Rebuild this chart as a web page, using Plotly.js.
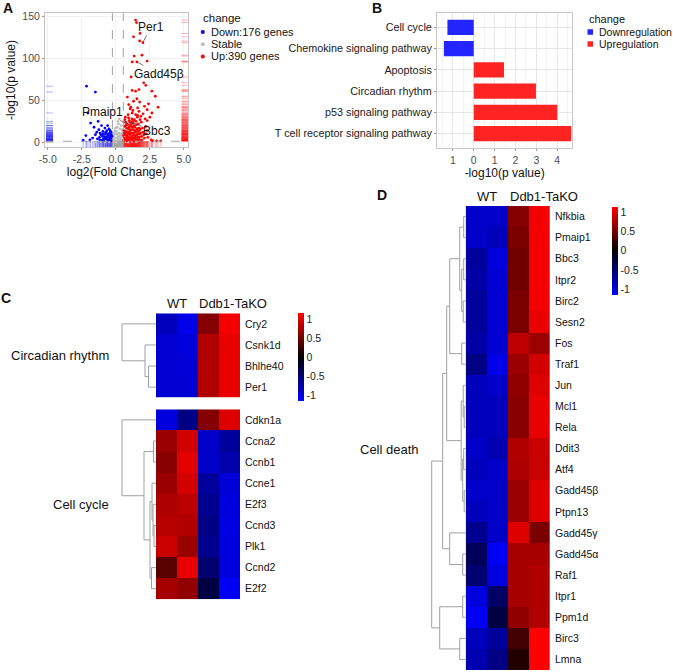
<!DOCTYPE html>
<html>
<head>
<meta charset="utf-8">
<script src="https://cdn.plot.ly/plotly-3.0.1.min.js"></script>
<style>
  html, body { margin: 0; padding: 0; background: #fff; }
  #fig { width: 673px; height: 672px; }
</style>
</head>
<body>
<div id="fig"></div>
<script>
// ---------- A: volcano ----------
const upX = [1.45, 1.52, 1.78, 1.30, 1.75, 1.99, 1.35, 1.92, 1.20, 1.55, 2.30, 1.12, 2.05, 2.20, 1.20, 1.45, 1.70, 2.65, 0.85, 1.55, 2.90, 1.30, 1.75, 0.95, 2.40, 1.10, 1.60, 2.10, 3.10,
  0.58, 0.62, 0.70, 0.75, 0.80, 0.85, 0.90, 0.95, 1.00, 1.05, 1.10, 1.15, 1.20, 1.25, 1.30, 1.35, 1.40, 1.45, 1.50, 1.55, 1.60, 1.65, 1.70, 1.75, 1.80, 1.85, 1.90, 2.00, 2.10, 2.20,
  0.60, 0.65, 0.72, 0.78, 0.82, 0.88, 0.98, 1.04, 1.08, 1.18, 1.28, 1.38, 1.48, 1.58, 1.68, 1.78, 1.88, 0.68, 0.82, 0.92, 1.02, 1.12, 1.22, 1.32, 1.42, 1.52, 1.62, 1.72,
  1.92, 2.05, 2.35, 2.30, 2.30, 0.70, 0.90, 1.20, 1.60, 2.00, 2.65, 2.30, 1.25, 2.70, 3.00, 3.30, 2.50, 0.57, 0.63, 0.74, 0.96, 1.14, 1.36, 1.66, 1.44, 1.26, 0.88, 1.08,
  1.56, 1.74, 0.66, 0.94, 1.46, 1.84, 2.15, 2.25, 2.60, 1.05, 1.70, 0.62, 0.76, 0.86, 1.16, 1.34, 1.54, 1.64, 1.82, 0.72, 0.98, 1.22, 1.40, 1.96];
const upY = [146, 143, 130, 126, 121, 119, 103, 104, 96, 96, 97, 78, 71, 68, 62, 61, 63, 61, 54, 52, 55, 49, 48, 45, 46, 42, 41, 43, 42,
  2, 5, 3, 8, 1.8, 12, 4, 6, 2.5, 9, 15, 3.5, 7, 11, 2, 5, 18, 8, 3, 13, 6, 22, 4, 10, 16, 2.2, 7, 12, 5, 19,
  14, 19, 24, 17, 22, 21, 26, 24, 20, 28, 23, 14, 25, 30, 17, 27, 24, 10, 6, 16, 13, 11, 18, 9, 12, 21, 10, 14,
  3, 9, 6, 14, 26, 30, 33, 35, 32, 34, 35, 39, 38, 2, 1.8, 1.6, 30, 8, 1.5, 13, 10, 22, 27, 2.8, 4.5, 15, 3, 5.5,
  9, 6.5, 27, 29, 33, 31, 28, 10, 3, 40, 37, 11, 4, 9, 5, 20, 16, 13, 11, 20, 18, 25, 7, 17];

const downX = [-2.15, -1.50, -2.05, -1.85, -1.60, -1.40, -1.25, -1.10, -0.95, -0.85, -0.75, -0.70, -0.60, -0.55, -0.50, -0.45, -0.40, -0.35, -0.30,
  -0.90, -1.00, -1.20, -1.35, -1.50, -1.70, -1.90, -2.20, -2.40, -0.65, -0.80, -1.05, -0.50, -0.40, -1.30, -0.60, -0.35, -0.55, -0.70, -1.15, -0.88,
  -0.32, -0.42, -0.62, -0.78, -0.98, -1.18, -0.48, -0.28, -0.74, -0.92];
const downY = [67, 60, 35, 23, 18, 12, 15, 9, 13, 7, 10, 4, 8, 2.5, 6, 11, 3, 5, 2,
  4, 2.5, 6, 4, 9, 5, 3, 8, 2.5, 14, 17, 20, 16, 8, 25, 20, 12, 10, 6, 11, 2,
  9, 14, 3, 5, 7, 3, 4, 7, 12, 10];

const stableX = [-0.20, -0.10, 0.00, 0.10, 0.20, 0.30, 0.40, 0.50, -0.15, -0.05, 0.05, 0.15, 0.25, 0.35, 0.45, 0.10, 0.20, 0.00, 0.30, -0.10,
  0.40, 0.15, 0.25, 0.05, -0.50, -0.80, -1.10, -1.50, 0.70, 0.90, 1.20, 1.50, -0.20, 0.35, 0.45, 0.50, -0.22, 0.52, 0.12, -0.08,
  0.22, -0.02, 0.32, 0.08, -0.14, 0.42];
const stableY = [1, 3, 0.5, 2, 4, 1.5, 6, 3, 7, 10, 13, 8, 11, 9, 15, 18, 22, 5, 16, 14,
  20, 25, 28, 0.3, 0.6, 0.4, 0.9, 0.5, 0.8, 0.3, 1.0, 0.6, 4, 3, 10, 12, 2, 8, 6, 1.2,
  7, 17, 5, 10, 11, 2];

const changeLabels = ['Down:176 genes', 'Stable', 'Up:390 genes'];
const calloutGenes = ['Per1', 'Gadd45β', 'Pmaip1', 'Bbc3'];
const calloutX = [1.99, 1.55, 0.82, 1.04];
const calloutY = [119, 96, 22, 24];
const fcCut = [-0.25, 0.55];
const pCut = 1.3;
const volcanoXTicks = [-5, -2.5, 0, 2.5, 5];
const volcanoXText = ['-5.0', '-2.5', '0.0', '2.5', '5.0'];
const volcanoYTicks = [0, 50, 100, 150];

// ---------- B: pathways ----------
const pathways = ['Cell cycle', 'Chemokine signaling pathway', 'Apoptosis', 'Circadian rhythm', 'p53 signaling pathway', 'T cell receptor signaling pathway'];
const pathwayLogP = [1.26, 1.43, 1.45, 2.98, 4.0, 4.67];
const pathwayChange = ['Downregulation', 'Downregulation', 'Upregulation', 'Upregulation', 'Upregulation', 'Upregulation'];
const pathwayTicks = [-1, 0, 1, 2, 3, 4];
const pathwayTickText = ['1', '0', '1', '2', '3', '4'];

// ---------- C / D: heatmaps ----------
const sampleGroups = ['WT', 'Ddb1-TaKO'];
const circRows = ['Cry2', 'Csnk1d', 'Bhlhe40', 'Per1'];
const circZ = [
  [-0.85, -1.05, 0.60, 1.10],
  [-0.95, -1.00, 0.80, 1.05],
  [-0.95, -0.97, 0.80, 1.05],
  [-0.95, -0.95, 0.80, 1.05]
];
const cycleRows = ['Cdkn1a', 'Ccna2', 'Ccnb1', 'Ccne1', 'E2f3', 'Ccnd3', 'Plk1', 'Ccnd2', 'E2f2'];
const cycleZ = [
  [-1.00, -0.60, 0.60, 1.00],
  [0.70, 0.95, -0.90, -0.70],
  [0.62, 1.02, -0.90, -0.78],
  [0.70, 0.95, -0.70, -0.98],
  [0.78, 0.85, -0.65, -1.00],
  [0.82, 0.80, -0.60, -1.02],
  [0.90, 0.70, -0.65, -1.00],
  [0.40, 1.05, -0.50, -1.00],
  [0.75, 0.65, -0.30, -1.10]
];
const deathRows = ['Nfkbia', 'Pmaip1', 'Bbc3', 'Itpr2', 'Birc2', 'Sesn2', 'Fos', 'Traf1', 'Jun', 'Mcl1', 'Rela', 'Ddit3', 'Atf4',
  'Gadd45β', 'Ptpn13', 'Gadd45γ', 'Gadd45α', 'Raf1', 'Itpr1', 'Ppm1d', 'Birc3', 'Lmna'];
const deathZ = [
  [-0.90, -0.90, 0.60, 1.10],
  [-0.90, -0.85, 0.55, 1.10],
  [-0.70, -1.00, 0.50, 1.10],
  [-0.75, -0.95, 0.50, 1.10],
  [-0.70, -0.95, 0.55, 1.10],
  [-0.70, -0.95, 0.55, 1.05],
  [-0.75, -0.95, 0.85, 0.70],
  [-0.60, -1.05, 0.70, 0.95],
  [-0.85, -0.90, 0.65, 1.00],
  [-0.85, -0.85, 0.62, 1.05],
  [-0.85, -0.85, 0.62, 1.05],
  [-0.90, -0.80, 0.80, 0.90],
  [-0.85, -0.90, 0.78, 0.90],
  [-0.90, -0.90, 0.70, 1.00],
  [-0.85, -0.90, 0.70, 1.00],
  [-0.65, -0.90, 1.00, 0.55],
  [-0.40, -1.10, 0.75, 0.75],
  [-0.50, -1.00, 0.75, 0.80],
  [-1.00, -0.45, 0.75, 0.80],
  [-1.10, -0.30, 0.65, 0.80],
  [-0.85, -0.70, 0.30, 1.15],
  [-0.80, -0.60, 0.15, 1.15]
];

// dendrogram merges: [left, right, height]; ids >= leaf count refer to earlier merges
const circMerges = [[2, 3, 7.5], [1, 4, 11], [0, 5, 34]];
const cycleMerges = [[1, 2, 2.5], [5, 6, 2], [4, 10, 3], [3, 11, 4], [7, 8, 4.5], [12, 13, 6], [9, 14, 12], [0, 15, 34]];
const deathMerges = [[0, 1, 2], [2, 3, 2], [4, 5, 2.5], [23, 24, 4], [22, 25, 6], [6, 7, 4], [26, 27, 16],
  [9, 10, 1.5], [8, 29, 2.5], [11, 12, 2], [13, 14, 1.5], [31, 32, 3], [30, 33, 4.5], [28, 34, 19],
  [16, 17, 3], [15, 36, 16], [35, 37, 23], [18, 19, 3], [20, 21, 6], [39, 40, 26], [38, 41, 34]];

// ---------- helpers ----------
const W = 673, H = 672;
const FONT = 'Liberation Sans, Arial, sans-serif';
const dx = (a, b) => [a / W, b / W];
const dy = (a, b) => [1 - b / H, 1 - a / H];

function label(text, x, y, size, anchor, extra) {
  return Object.assign({
    text, xref: 'paper', yref: 'paper', x: x / W, y: 1 - y / H,
    xanchor: anchor || 'center', yanchor: 'middle', showarrow: false,
    font: { size, color: '#111', family: FONT }
  }, extra || {});
}

function dendroLines(nLeaves, merges) {
  const pos = [], ht = [], xs = [], ys = [];
  for (let i = 0; i < nLeaves; i++) { pos.push(i); ht.push(0); }
  merges.forEach(([a, b, h]) => {
    xs.push(ht[a], h, h, ht[b], null);
    ys.push(pos[a], pos[a], pos[b], pos[b], null);
    pos.push((pos[a] + pos[b]) / 2);
    ht.push(h);
  });
  return { x: xs, y: ys };
}

// volcano axis ranges and rug positions (rugs hug the frame)
const vxr = [-5.2, 5.3], vyr = [-5.6, 154.4];
const leftRugX = vxr[0] + (4.5 / 143) * (vxr[1] - vxr[0]);
const rightRugX = vxr[1] - (3 / 143) * (vxr[1] - vxr[0]);
const bottomRugY = vyr[0] + (2.5 / 134) * (vyr[1] - vyr[0]);

const BLUE = 'rgb(0,0,255)', RED = 'rgb(255,0,0)', GREY = 'rgb(190,190,190)';

function rug(x, y, symbol, color) {
  return { x, y, type: 'scatter', mode: 'markers', hoverinfo: 'skip', showlegend: false,
    marker: { symbol, size: 5, line: { width: 1, color } } };
}

const traces = [];

// rugs first so points sit on top
traces.push(rug(stableX.map(() => leftRugX), stableY, 'line-ew', 'rgba(170,170,170,0.2)'));
traces.push(rug(downX.map(() => leftRugX), downY, 'line-ew', 'rgba(0,0,255,0.3)'));
traces.push(rug(upX.map(() => rightRugX), upY, 'line-ew', 'rgba(255,0,0,0.3)'));
traces.push(rug(downX, downX.map(() => bottomRugY), 'line-ns', 'rgba(0,0,255,0.3)'));
traces.push(rug(stableX, stableX.map(() => bottomRugY), 'line-ns', 'rgba(150,150,150,0.4)'));
traces.push(rug(upX, upX.map(() => bottomRugY), 'line-ns', 'rgba(255,0,0,0.3)'));

[[stableX, stableY, GREY], [downX, downY, BLUE], [upX, upY, RED]].forEach(([x, y, c]) => {
  traces.push({ x, y, type: 'scatter', mode: 'markers', showlegend: false, hoverinfo: 'skip',
    marker: { size: 2.8, color: c, line: { width: 0 } } });
});

// B: bars
['Downregulation', 'Upregulation'].forEach(ch => {
  const idx = pathways.map((p, i) => i).filter(i => pathwayChange[i] === ch);
  traces.push({
    type: 'bar', orientation: 'h', xaxis: 'x2', yaxis: 'y2', showlegend: false, hoverinfo: 'skip',
    y: idx.map(i => pathways[i]),
    x: idx.map(i => ch === 'Downregulation' ? -pathwayLogP[i] : pathwayLogP[i]),
    width: 0.72,
    marker: { color: ch === 'Downregulation' ? '#2424ff' : '#ff2424', line: { width: 0 } }
  });
});

// C / D heatmaps
const scale = [[0, 'rgb(0,0,255)'], [0.5, 'rgb(0,0,0)'], [1, 'rgb(255,0,0)']];
const cbTicks = { tickvals: [1, 0.5, 0, -0.5, -1], ticktext: ['1', '0.5', '0', '-0.5', '-1'] };
function heat(z, xa, ya, cbar) {
  const t = { type: 'heatmap', z, x: [0, 1, 2, 3], y: z.map((r, i) => i), xaxis: xa, yaxis: ya,
    colorscale: scale, zmin: -1.15, zmax: 1.15, hoverinfo: 'skip', showscale: !!cbar };
  if (cbar) {
    t.colorbar = Object.assign({
      xanchor: 'left', yanchor: 'top', lenmode: 'pixels', thicknessmode: 'pixels', thickness: 6,
      outlinewidth: 0, xpad: 0, ypad: 0, ticks: '', tickfont: { size: 10.5, color: '#222', family: FONT }
    }, cbTicks, cbar);
  }
  return t;
}
traces.push(heat(circZ, 'x3', 'y3', { x: 297.7 / W, y: 1 - 313.3 / H, len: 87.7 }));
traces.push(heat(cycleZ, 'x4', 'y4', null));
traces.push(heat(deathZ, 'x5', 'y5', { x: 611.7 / W, y: 1 - 206.7 / H, len: 88.3 }));

[[circRows.length, circMerges, 'x6', 'y3'], [cycleRows.length, cycleMerges, 'x7', 'y4'], [deathRows.length, deathMerges, 'x8', 'y5']]
  .forEach(([n, m, xa, ya]) => {
    const d = dendroLines(n, m);
    traces.push({ x: d.x, y: d.y, xaxis: xa, yaxis: ya, type: 'scatter', mode: 'lines', hoverinfo: 'skip',
      showlegend: false, line: { color: '#a0a0a0', width: 1 } });
  });

// ---------- layout ----------
const tickFont = { size: 10.5, color: '#4d4d4d', family: FONT };
const titleFont = { size: 12, family: FONT, color: '#111' };
const hidden = { visible: false, fixedrange: true };
function heatY(domain, rows, anchor) {
  return { domain, anchor, side: 'right', range: [rows.length - 0.5, -0.5], tickvals: rows.map((r, i) => i),
    ticktext: rows, ticks: '', showgrid: false, zeroline: false, showline: false, ticklabelstandoff: 4,
    tickfont: { size: 10.5, color: '#111', family: FONT } };
}

const annotations = [
  label('<b>A</b>', 8, 8, 14), label('<b>B</b>', 377, 8, 14),
  label('<b>C</b>', 6, 298, 14), label('<b>D</b>', 382, 195, 14),
  // legend A
  label('change', 201, 18, 11.5, 'left'),
  label(changeLabels[0], 209, 32, 11, 'left'),
  label(changeLabels[1], 209, 44.2, 11, 'left'),
  label(changeLabels[2], 209, 56.4, 11, 'left'),
  // legend B
  label('change', 587, 19, 11, 'left'),
  label('Downregulation', 597, 32, 10.5, 'left'),
  label('Upregulation', 597, 44, 10.5, 'left'),
  // heatmap headers and groups
  label(sampleGroups[0], 177, 303, 13), label(sampleGroups[1], 197, 303, 13, 'left'),
  label(sampleGroups[0], 487, 196, 13), label(sampleGroups[1], 508, 196, 13, 'left'),
  label('Circadian rhythm', 111, 355, 13, 'right'),
  label('Cell cycle', 111, 504, 13, 'right'),
  label('Cell death', 421, 449, 13, 'right')
];
const calloutOffsets = [[8, -16], [22, 12], [-24, -12], [27, 9]];
calloutGenes.forEach((g, i) => {
  annotations.push({ text: g, x: calloutX[i], y: calloutY[i], xref: 'x', yref: 'y',
    ax: calloutOffsets[i][0], ay: calloutOffsets[i][1],
    showarrow: true, arrowhead: 0, arrowwidth: 0.8, arrowcolor: '#555', standoff: 0,
    font: { size: 12, color: '#111', family: FONT } });
});

const shapes = [
  { type: 'line', xref: 'x', yref: 'y domain', x0: fcCut[0], x1: fcCut[0], y0: 0, y1: 1, line: { color: '#999', width: 0.9, dash: 'dash' } },
  { type: 'line', xref: 'x', yref: 'y domain', x0: fcCut[1], x1: fcCut[1], y0: 0, y1: 1, line: { color: '#999', width: 0.9, dash: 'dash' } },
  { type: 'line', xref: 'x domain', yref: 'y', x0: 0, x1: 1, y0: pCut, y1: pCut, line: { color: '#999', width: 0.9, dash: 'dash' } }
];
// legend keys
[[32, BLUE], [44.2, GREY], [56.4, RED]].forEach(([y, c]) => {
  shapes.push({ type: 'circle', xref: 'paper', yref: 'paper', x0: 200.8 / W, x1: 204.8 / W, y0: 1 - (y + 2) / H, y1: 1 - (y - 2) / H,
    fillcolor: c, line: { width: 0 } });
});
[[32, '#2424ff'], [44, '#ff2424']].forEach(([y, c]) => {
  shapes.push({ type: 'rect', xref: 'paper', yref: 'paper', x0: 587.5 / W, x1: 593 / W, y0: 1 - (y + 2.75) / H, y1: 1 - (y - 2.75) / H,
    fillcolor: c, line: { width: 0 } });
});

const frame = { showline: true, mirror: true, linewidth: 1, ticks: 'outside', ticklen: 2, tickcolor: '#999', zeroline: false };

const layout = {
  width: W, height: H, margin: { l: 0, r: 0, t: 0, b: 0 },
  paper_bgcolor: '#fff', plot_bgcolor: '#fff', showlegend: false,
  font: { family: FONT, color: '#111' },
  xaxis: Object.assign({ domain: dx(45, 188), anchor: 'y', range: vxr, tickvals: volcanoXTicks, ticktext: volcanoXText,
    linecolor: '#c4c4c4', showgrid: true, gridcolor: '#f2f2f2', tickfont: tickFont,
    title: { text: 'log2(Fold Change)', font: titleFont, standoff: 0 } }, frame),
  yaxis: Object.assign({ domain: dy(13, 147), anchor: 'x', range: vyr, tickvals: volcanoYTicks,
    linecolor: '#c4c4c4', showgrid: true, gridcolor: '#f2f2f2', tickfont: tickFont,
    title: { text: '-log10(p value)', font: titleFont, standoff: 4 } }, frame),
  xaxis2: Object.assign({ domain: dx(437, 572.3), anchor: 'y2', range: [-1.76, 4.72], tickvals: pathwayTicks, ticktext: pathwayTickText,
    linecolor: '#c8c8c8', showgrid: true, gridcolor: '#e6e6e6', tickfont: tickFont,
    minor: { dtick: 0.5, tick0: 0.5, showgrid: true, gridcolor: '#f3f3f3', ticks: '' },
    title: { text: '-log10(p value)', font: titleFont, standoff: 0 } }, frame),
  yaxis2: Object.assign({ domain: dy(13, 148), anchor: 'x2', type: 'category', categoryorder: 'array', categoryarray: pathways,
    range: [5.68, -0.68], linecolor: '#c8c8c8', showgrid: true, gridcolor: '#e6e6e6',
    tickfont: { size: 10.8, color: '#1a1a1a', family: FONT } }, frame),
  xaxis3: Object.assign({ domain: dx(156, 240), anchor: 'y3', range: [-0.5, 3.5] }, hidden),
  yaxis3: heatY(dy(313.3, 397.7), circRows, 'x3'),
  xaxis4: Object.assign({ domain: dx(156, 240), anchor: 'y4', range: [-0.5, 3.5] }, hidden),
  yaxis4: heatY(dy(409.3, 599.3), cycleRows, 'x4'),
  xaxis5: Object.assign({ domain: dx(465.7, 550), anchor: 'y5', range: [-0.5, 3.5] }, hidden),
  yaxis5: heatY(dy(206, 670), deathRows, 'x5'),
  xaxis6: Object.assign({ domain: dx(115, 156), anchor: 'y3', range: [41, 0] }, hidden),
  xaxis7: Object.assign({ domain: dx(115, 156), anchor: 'y4', range: [41, 0] }, hidden),
  xaxis8: Object.assign({ domain: dx(422, 465.7), anchor: 'y5', range: [43.7, 0] }, hidden),
  annotations, shapes
};

Plotly.newPlot('fig', traces, layout, { displayModeBar: false, staticPlot: true });
</script>
</body>
</html>
